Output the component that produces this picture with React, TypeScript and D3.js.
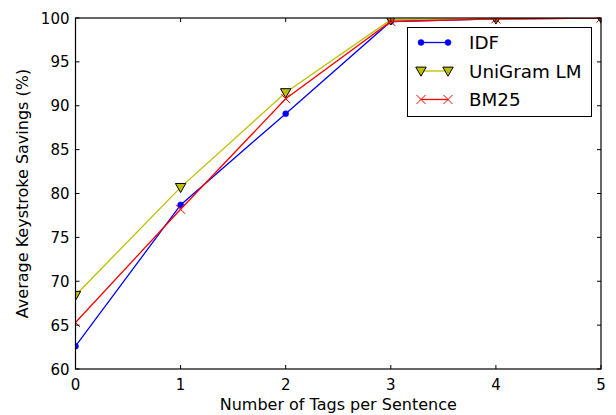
import React from "react";
import * as d3 from "d3";

const tags = [0, 1, 2, 3, 4, 5];
const idf = [62.6, 78.7, 89.1, 99.6, 99.9, 100];
const unigram = [68.4, 80.7, 91.5, 99.8, 99.9, 100];
const bm25 = [65.3, 78.2, 90.8, 99.6, 99.9, 100];
const xTicks = [0, 1, 2, 3, 4, 5];
const yTicks = [60, 65, 70, 75, 80, 85, 90, 95, 100];
const seriesNames = ["IDF", "UniGram LM", "BM25"];

const W = 616;
const H = 415;
const M = { left: 75.5, right: 601, top: 18, bottom: 369 };
const FONT = "DejaVu Sans, sans-serif";

type Kind = "dot" | "tri" | "x";

function Marker({ kind, x, y, color }: { kind: Kind; x: number; y: number; color: string }) {
  if (kind === "dot") return <circle cx={x} cy={y} r={3} fill={color} stroke={color} strokeWidth={0.5} />;
  if (kind === "tri") {
    const s = 5.2;
    return (
      <path
        d={`M${x - s},${y - s * 0.75}L${x + s},${y - s * 0.75}L${x},${y + s * 1.0}Z`}
        fill="#bfbf00"
        stroke="#000"
        strokeWidth={1}
      />
    );
  }
  const s = 4.5;
  return (
    <path d={`M${x - s},${y - s}L${x + s},${y + s}M${x - s},${y + s}L${x + s},${y - s}`} stroke={color} strokeWidth={1} fill="none" />
  );
}

export default function App() {
  const x = d3.scaleLinear().domain([0, 5]).range([M.left, M.right]);
  const y = d3.scaleLinear().domain([60, 100]).range([M.bottom, M.top]);
  const line = d3
    .line<number>()
    .x((_, i) => x(tags[i]))
    .y((v) => y(v));

  const series: { name: string; values: number[]; color: string; kind: Kind }[] = [
    { name: seriesNames[0], values: idf, color: "#0000ff", kind: "dot" },
    { name: seriesNames[1], values: unigram, color: "#bfbf00", kind: "tri" },
    { name: seriesNames[2], values: bm25, color: "#ff0000", kind: "x" },
  ];

  const tick = 4;
  const lg = { x: 407.5, y: 27.5, w: 184, h: 89 };

  return (
    <svg width={W} height={H} style={{ position: "absolute", left: 0, top: 0 }} fontFamily={FONT}>
      <rect width={W} height={H} fill="#fff" />
      <defs>
        <clipPath id="plotClip">
          <rect x={M.left} y={M.top} width={M.right - M.left} height={M.bottom - M.top} />
        </clipPath>
      </defs>
      <g clipPath="url(#plotClip)">
        {series.map((s) => (
          <g key={s.name}>
            <path d={line(s.values) || ""} fill="none" stroke={s.color} strokeWidth={1.3} />
            {s.values.map((v, i) => (
              <Marker key={i} kind={s.kind} x={x(tags[i])} y={y(v)} color={s.color} />
            ))}
          </g>
        ))}
      </g>
      {/* ticks pointing inward on all four sides */}
      {xTicks.map((t) => (
        <g key={"x" + t}>
          <line x1={x(t)} x2={x(t)} y1={M.bottom} y2={M.bottom - tick} stroke="#000" strokeWidth={1} />
          <line x1={x(t)} x2={x(t)} y1={M.top} y2={M.top + tick} stroke="#000" strokeWidth={1} />
          <text x={x(t)} y={M.bottom + 21} fontSize={15} textAnchor="middle">
            {t}
          </text>
        </g>
      ))}
      {yTicks.map((t) => (
        <g key={"y" + t}>
          <line x1={M.left} x2={M.left + tick} y1={y(t)} y2={y(t)} stroke="#000" strokeWidth={1} />
          <line x1={M.right} x2={M.right - tick} y1={y(t)} y2={y(t)} stroke="#000" strokeWidth={1} />
          <text x={M.left - 6} y={y(t) + 5.5} fontSize={15} textAnchor="end">
            {t}
          </text>
        </g>
      ))}
      <rect x={M.left} y={M.top} width={M.right - M.left} height={M.bottom - M.top} fill="none" stroke="#000" strokeWidth={1.2} />
      <text x={(M.left + M.right) / 2} y={410} fontSize={16} textAnchor="middle">
        Number of Tags per Sentence
      </text>
      <text transform={`translate(28,${(M.top + M.bottom) / 2}) rotate(-90)`} fontSize={16} textAnchor="middle">
        Average Keystroke Savings (%)
      </text>
      {/* legend */}
      <rect x={lg.x} y={lg.y} width={lg.w} height={lg.h} fill="#fff" stroke="#000" strokeWidth={1} />
      {series.map((s, i) => {
        const cy = lg.y + 15 + i * 28.5;
        return (
          <g key={"lg" + s.name}>
            <line x1={421} x2={448} y1={cy} y2={cy} stroke={s.color} strokeWidth={1.3} />
            <Marker kind={s.kind} x={421} y={cy} color={s.color} />
            <Marker kind={s.kind} x={448} y={cy} color={s.color} />
            <text x={469} y={cy + 6.5} fontSize={18.3}>
              {s.name}
            </text>
          </g>
        );
      })}
    </svg>
  );
}
